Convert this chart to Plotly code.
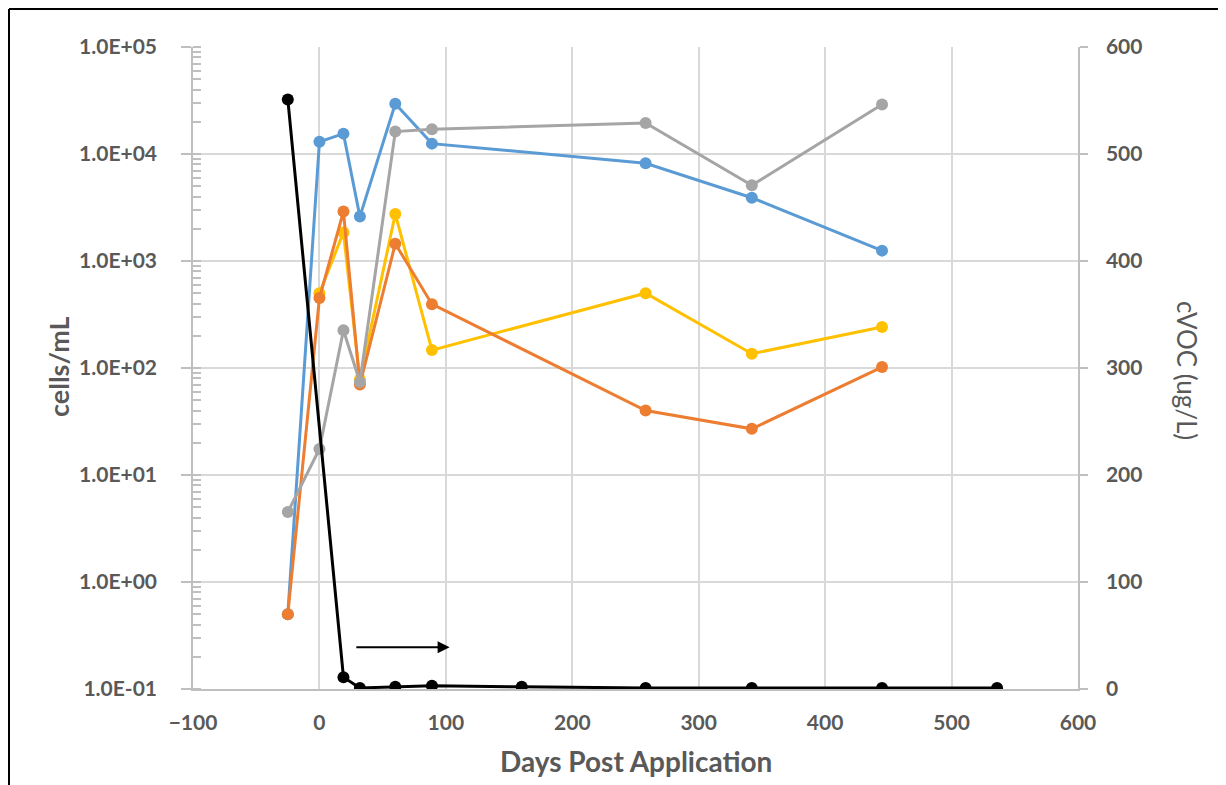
import plotly.graph_objects as go

# ---- data ----
days_blue = [-25, 0, 19, 32, 60, 89, 258, 342, 445]
blue = [0.5, 13000, 15500, 2600, 29500, 12500, 8200, 3900, 1250]

days_yellow = [0, 19, 32, 60, 89, 258, 342, 445]
yellow = [500, 1850, 78, 2750, 147, 500, 136, 242]

days_orange = [-25, 0, 19, 32, 60, 89, 258, 342, 445]
orange = [0.5, 450, 2900, 70, 1450, 395, 40, 27, 102]

days_gray = [-25, 0, 19, 32, 60, 89, 258, 342, 445]
gray = [4.5, 17.5, 225, 74, 16200, 17000, 19500, 5100, 29000]

days_cvoc = [-25, 19, 32, 60, 89, 160, 258, 342, 445, 536]
cvoc = [551, 11, 1, 2, 3, 2, 1, 1, 1, 1]

left_tickvals = [0.1, 1, 10, 100, 1000, 10000, 100000]
left_ticktext = ["1.0E-01", "1.0E+00", "1.0E+01", "1.0E+02", "1.0E+03", "1.0E+04", "1.0E+05"]

arrow_days = [28, 103]
arrow_cvoc = 39

FONT = "Lato"
TXT = "#595959"
GRID = "#D9D9D9"
AXL = "#BFBFBF"

fig = go.Figure()

def add(x, y, color, yaxis="y"):
    fig.add_trace(go.Scatter(x=x, y=y, mode="lines+markers", yaxis=yaxis,
                             line=dict(color=color, width=3),
                             marker=dict(color=color, size=12),
                             showlegend=False, hoverinfo="x+y"))

add(days_blue, blue, "#5B9BD5")
add(days_yellow, yellow, "#FFC000")
add(days_orange, orange, "#ED7D31")
add(days_gray, gray, "#A5A5A5")
add(days_cvoc, cvoc, "#000000", "y2")

TICKFONT = dict(family=FONT, size=21, color=TXT, weight="bold")

fig.update_layout(
    width=1226, height=785,
    margin=dict(l=185, r=156, t=39, b=104),
    paper_bgcolor="white", plot_bgcolor="white",
    font=dict(family=FONT, color=TXT),
    xaxis=dict(range=[-100, 600], dtick=100, tick0=0, showgrid=True, gridcolor=GRID,
               gridwidth=1.5, zeroline=False, showline=True, linecolor=AXL, linewidth=1.5,
               ticks="", tickfont=TICKFONT, ticklabelstandoff=14),
    yaxis=dict(type="log", range=[-1, 5], tickvals=left_tickvals, ticktext=left_ticktext,
               showgrid=True, gridcolor=GRID, gridwidth=1.5, zeroline=False,
               showline=True, linecolor=AXL, linewidth=1.5,
               ticks="outside", ticklen=10, tickcolor=AXL, tickwidth=1.5,
               minor=dict(ticks="inside", ticklen=8, tickcolor=AXL, dtick="D1", showgrid=False),
               tickfont=TICKFONT, ticklabelstandoff=20),
    yaxis2=dict(overlaying="y", side="right", range=[0, 600], dtick=100,
                showgrid=False, zeroline=False, showline=True, linecolor=AXL, linewidth=1.5,
                ticks="outside", ticklen=8, tickcolor=AXL, tickwidth=1.5,
                tickfont=TICKFONT, ticklabelstandoff=14),
)

fig.add_annotation(x=arrow_days[1], y=arrow_cvoc, xref="x", yref="y2",
                   ax=arrow_days[0], ay=arrow_cvoc, axref="x", ayref="y2",
                   text="", showarrow=True, arrowhead=2, arrowsize=1.2,
                   arrowwidth=2, arrowcolor="black")

fig.add_annotation(x=(58 - 193) / 885, y=(689 - 367) / 642, xref="paper", yref="paper",
                   text="cells/mL", textangle=-90, showarrow=False,
                   xanchor="center", yanchor="middle",
                   font=dict(family=FONT, size=27, color=TXT, weight="bold"))
fig.add_annotation(x=(1187 - 193) / 885, y=(689 - 370) / 642, xref="paper", yref="paper",
                   text="cVOC (ug/L)", textangle=90, showarrow=False,
                   xanchor="center", yanchor="middle",
                   font=dict(family=FONT, size=26, color=TXT))
fig.add_annotation(x=(636 - 193) / 885, y=(689 - 761) / 642, xref="paper", yref="paper",
                   text="Days Post Application", showarrow=False,
                   xanchor="center", yanchor="middle",
                   font=dict(family=FONT, size=28, color=TXT, weight="bold"))

# frame (left and top edges visible in reference)
fig.add_shape(type="line", xref="paper", yref="paper", x0=(9 - 193) / 885, x1=(9 - 193) / 885,
              y0=(689 - 800) / 642, y1=(689 - 9) / 642, line=dict(color="black", width=2))
fig.add_shape(type="line", xref="paper", yref="paper", x0=(9 - 193) / 885, x1=(1240 - 193) / 885,
              y0=(689 - 9) / 642, y1=(689 - 9) / 642, line=dict(color="black", width=2))

fig.write_html("out.html")
